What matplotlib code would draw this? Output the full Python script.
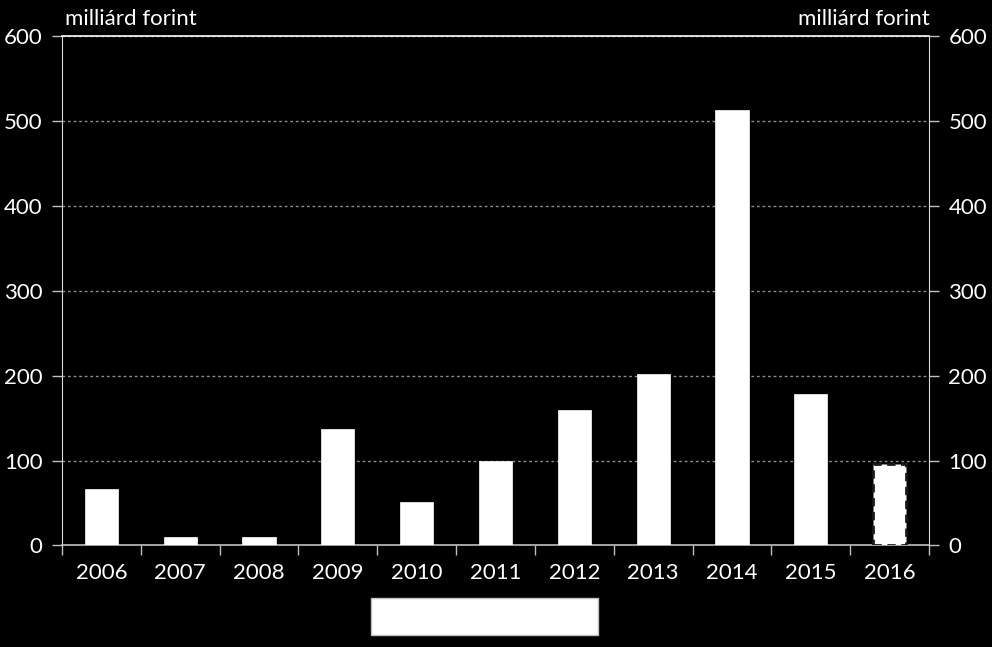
import matplotlib
matplotlib.use("Agg")
import matplotlib.pyplot as plt
from matplotlib.patches import Rectangle

years = ["2006", "2007", "2008", "2009", "2010", "2011", "2012", "2013", "2014", "2015", "2016"]
values = [67, 10, 10, 137, 51, 100, 159, 202, 513, 178, 96]
yticks = [0, 100, 200, 300, 400, 500, 600]
unit_label = "milliárd forint"

plt.rcParams['font.family'] = ['Lato', 'DejaVu Sans']
FS = 16

fig = plt.figure(figsize=(9.92, 6.47), dpi=100, facecolor='black')
ax = fig.add_axes([0.0625, 0.157, 0.874, 0.787])
ax.set_facecolor('black')

x = list(range(len(years)))
bars = ax.bar(x, values, width=0.42, color='white', edgecolor='white', linewidth=0.5, zorder=3)
last = bars[-1]
last.set_edgecolor('#1a1a1a')
last.set_linestyle((0, (3, 2)))
last.set_linewidth(2.0)

ax.set_xlim(-0.5, len(years) - 0.5)
ax.set_ylim(0, 600)
ax.set_yticks(yticks)
ax.set_yticklabels([str(v) for v in yticks])
ax.yaxis.grid(True, color='#8c8c8c', linestyle=(0, (2, 2)), linewidth=1.0, zorder=0)
ax.axhline(600, color='white', linewidth=1.2, zorder=4, clip_on=False)

ax.set_xticks(x)
ax.set_xticklabels(years)
ax.set_xticks([i - 0.5 for i in range(len(years) + 1)], minor=True)
ax.tick_params(axis='x', which='major', length=0, pad=13, labelsize=FS, labelcolor='white')
ax.tick_params(axis='x', which='minor', length=7, width=1, color='#bfbfbf', direction='out')
ax.tick_params(axis='y', length=7, width=1, color='#bfbfbf', direction='out', pad=7,
               labelsize=FS, labelcolor='white')

for s in ['top', 'right']:
    ax.spines[s].set_visible(False)
ax.spines['left'].set_color('#d9d9d9')
ax.spines['bottom'].set_color('#bfbfbf')
ax.spines['bottom'].set_linewidth(1.2)

ax2 = ax.twinx()
ax2.set_ylim(0, 600)
ax2.set_yticks(yticks)
ax2.set_yticklabels([str(v) for v in yticks])
ax2.tick_params(axis='y', length=7, width=1, color='#bfbfbf', direction='out', pad=7,
                labelsize=FS, labelcolor='white')
for s in ['top', 'left', 'bottom']:
    ax2.spines[s].set_visible(False)
ax2.spines['right'].set_color('#d9d9d9')

fig.text(0.066, 0.971, unit_label, color='white', fontsize=FS, ha='left', va='center')
fig.text(0.937, 0.971, unit_label, color='white', fontsize=FS, ha='right', va='center')

fig.patches.append(Rectangle((371 / 992, 1 - 635 / 647), (598 - 371) / 992, (635 - 598) / 647,
                             transform=fig.transFigure, facecolor='white', edgecolor='#bfbfbf',
                             linewidth=1))

fig.savefig("out.png", dpi=100, facecolor='black')
